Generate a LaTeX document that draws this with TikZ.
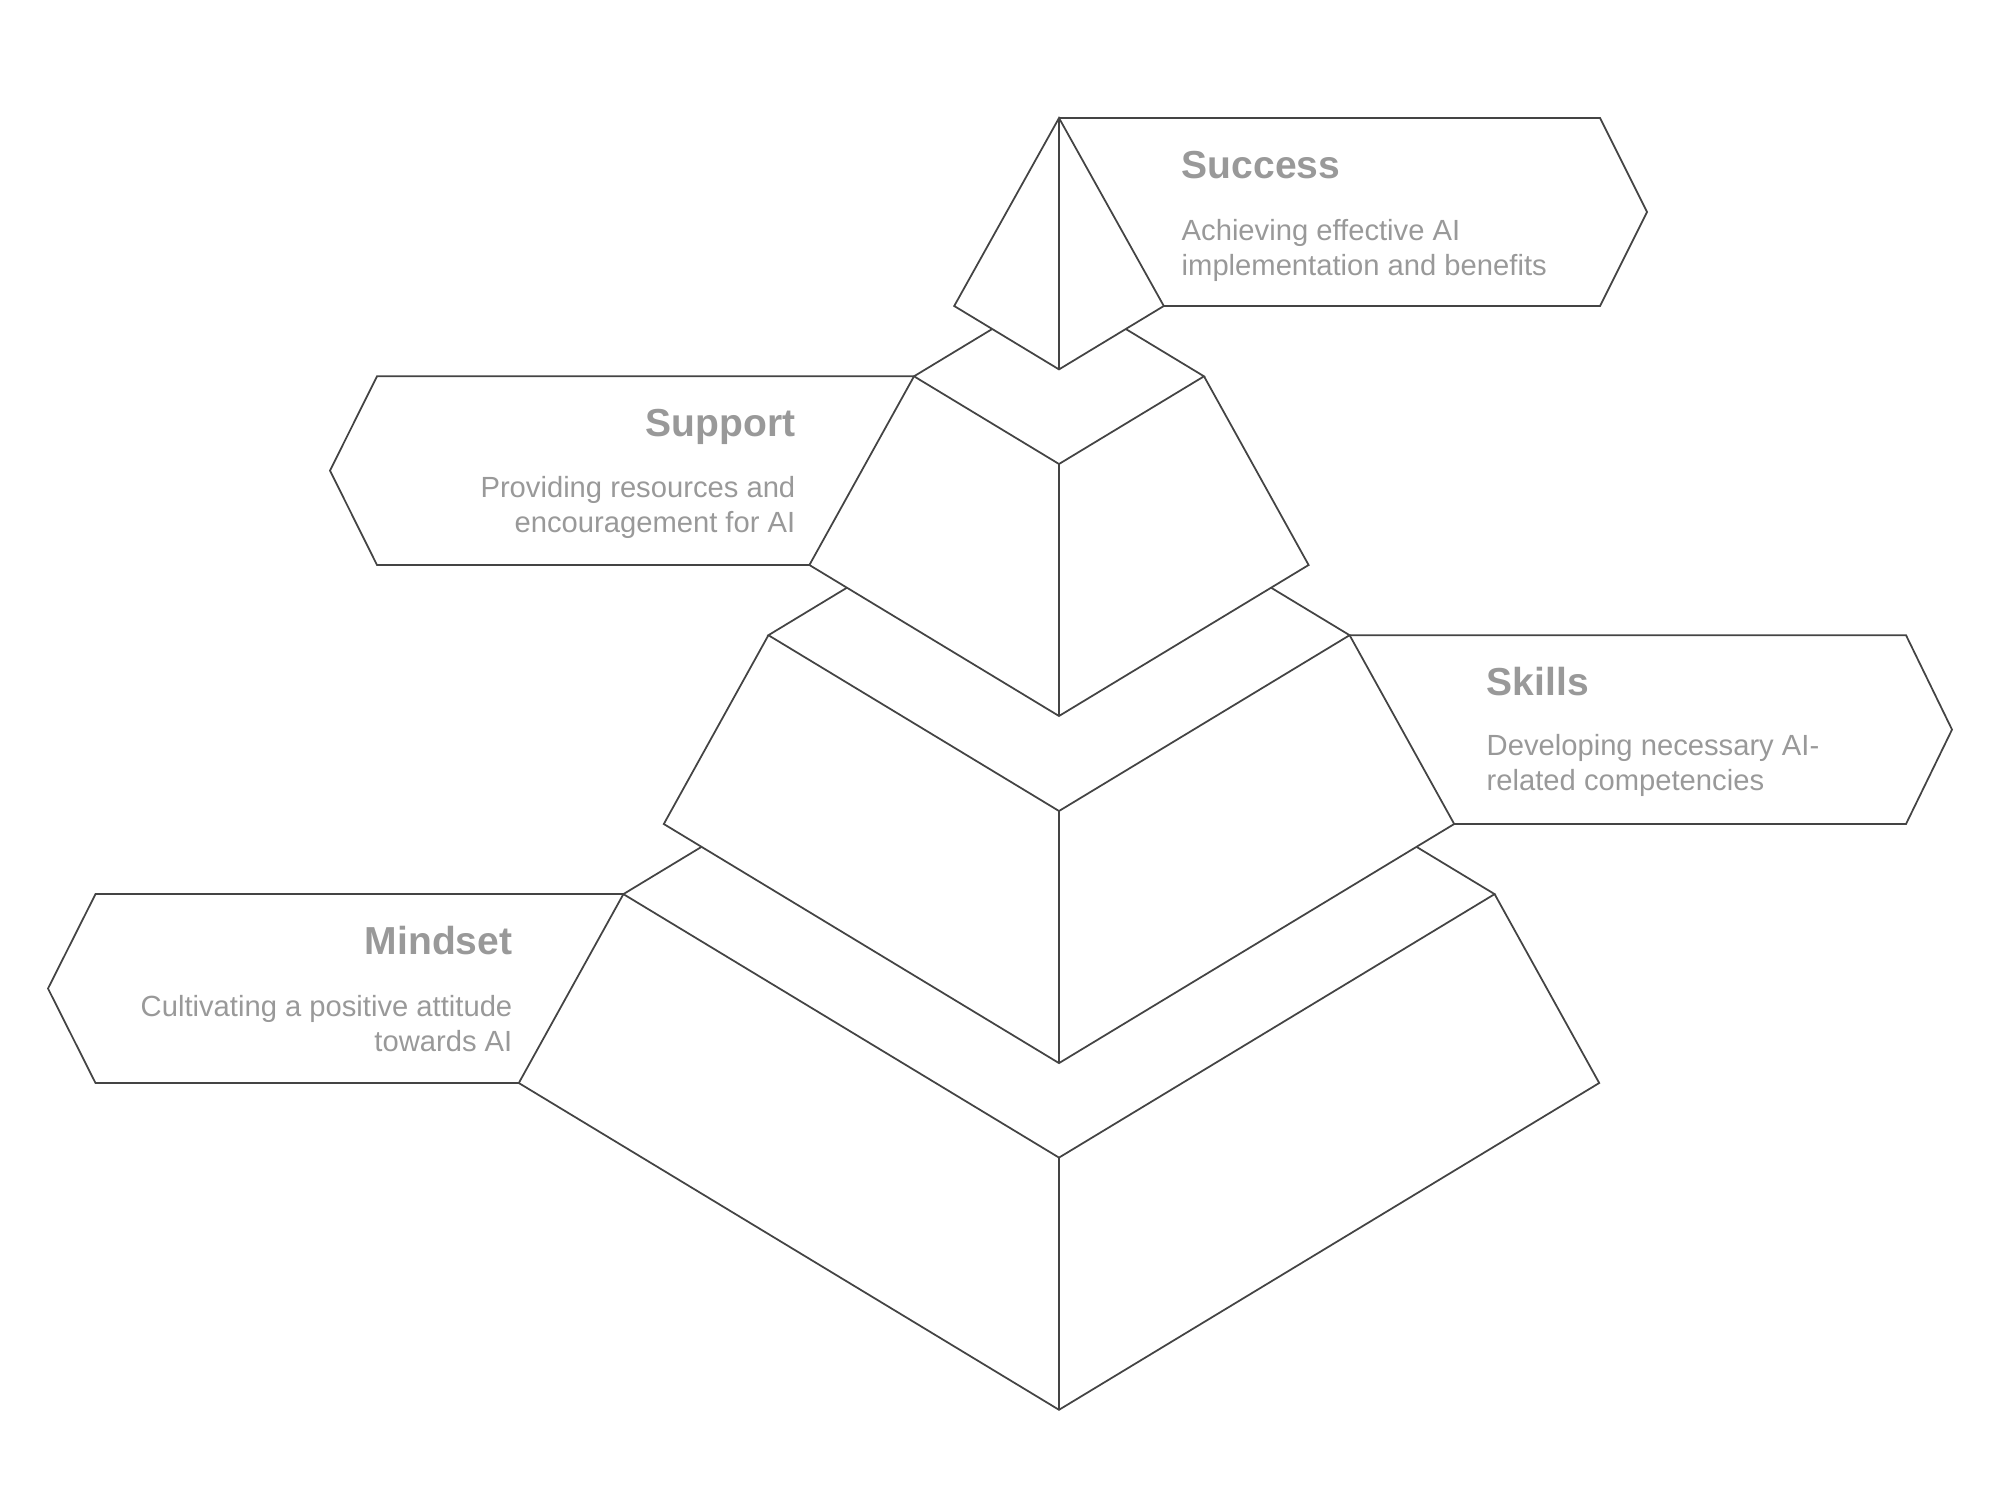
\documentclass[tikz,border=0pt]{standalone}
\usepackage{fontspec}
\setmainfont{Liberation Sans}
\definecolor{linec}{HTML}{444444}
\definecolor{txtc}{HTML}{999999}
\begin{document}
\begin{tikzpicture}[x=0.01cm,y=-0.01cm,
  edge/.style={draw=linec,line width=0.5pt,line join=miter},
  tierfill/.style={fill=white},
  boxline/.style={draw=linec,line width=0.5pt,line join=miter},
  titletext/.style={inner sep=0pt,text=txtc,font=\bfseries\fontsize{11.1}{13}\selectfont},
  desctext/.style={inner sep=0pt,text=txtc,font=\fontsize{8.3}{10}\selectfont}]
\useasboundingbox (0,0) rectangle (2000,1506);
% ---------- coordinates of the tiers ----------
% tier 1 (apex)
\coordinate (t1A) at (1059,118);
\coordinate (t1L) at (954.2,306);
\coordinate (t1R) at (1163.8,306);
\coordinate (t1F) at (1059,369.4);
% tier 2
\coordinate (t2L) at (914,376.3);
\coordinate (t2R) at (1204,376.3);
\coordinate (t2F) at (1059,464);
\coordinate (t2K) at (1059,288.6);
\coordinate (t2BL) at (809.4,565);
\coordinate (t2BR) at (1308.6,565);
\coordinate (t2BF) at (1059,716);
% tier 3
\coordinate (t3L) at (768.4,635.2);
\coordinate (t3R) at (1349.6,635.2);
\coordinate (t3F) at (1059,811);
\coordinate (t3K) at (1059,459.4);
\coordinate (t3BL) at (663.8,824);
\coordinate (t3BR) at (1454.2,824);
\coordinate (t3BF) at (1059,1063.1);
% tier 4
\coordinate (t4L) at (623.4,894.1);
\coordinate (t4R) at (1494.6,894.1);
\coordinate (t4F) at (1059,1157.6);
\coordinate (t4K) at (1059,630.6);
\coordinate (t4BL) at (518.8,1083);
\coordinate (t4BR) at (1599.2,1083);
\coordinate (t4BF) at (1059,1409.8);
% ---------- box corners ----------
\coordinate (sucTR) at (1600,118);
\coordinate (sucTip) at (1647,212);
\coordinate (sucBR) at (1600,306);
\coordinate (supTL) at (377,376.3);
\coordinate (supTip) at (330,470.6);
\coordinate (supBL) at (377,565);
\coordinate (skiTR) at (1906,635.2);
\coordinate (skiTip) at (1952,729.6);
\coordinate (skiBR) at (1906,824);
\coordinate (minTL) at (95.5,894.1);
\coordinate (minTip) at (48,988.5);
\coordinate (minBL) at (95.5,1083);
% ---------- boxes ----------
\draw[boxline] (t1A) -- (sucTR) -- (sucTip) -- (sucBR) -- (t1R);
\draw[boxline] (t2L) -- (supTL) -- (supTip) -- (supBL) -- (t2BL);
\draw[boxline] (t3R) -- (skiTR) -- (skiTip) -- (skiBR) -- (t3BR);
\draw[boxline] (t4L) -- (minTL) -- (minTip) -- (minBL) -- (t4BL);
% ---------- tier 4 ----------
\fill[tierfill] (t4L) -- (t4K) -- (t4R) -- (t4BR) -- (t4BF) -- (t4BL) -- cycle;
\draw[edge] (t4K) -- (t4L) -- (t4F) -- (t4R) -- cycle;
\draw[edge] (t4L) -- (t4BL) -- (t4BF) -- (t4BR) -- (t4R);
\draw[edge] (t4F) -- (t4BF);
% ---------- tier 3 ----------
\fill[tierfill] (t3L) -- (t3K) -- (t3R) -- (t3BR) -- (t3BF) -- (t3BL) -- cycle;
\draw[edge] (t3K) -- (t3L) -- (t3F) -- (t3R) -- cycle;
\draw[edge] (t3L) -- (t3BL) -- (t3BF) -- (t3BR) -- (t3R);
\draw[edge] (t3F) -- (t3BF);
% ---------- tier 2 ----------
\fill[tierfill] (t2L) -- (t2K) -- (t2R) -- (t2BR) -- (t2BF) -- (t2BL) -- cycle;
\draw[edge] (t2K) -- (t2L) -- (t2F) -- (t2R) -- cycle;
\draw[edge] (t2L) -- (t2BL) -- (t2BF) -- (t2BR) -- (t2R);
\draw[edge] (t2F) -- (t2BF);
% ---------- tier 1 ----------
\fill[tierfill] (t1A) -- (t1R) -- (t1F) -- (t1L) -- cycle;
\draw[edge] (t1A) -- (t1R) -- (t1F) -- (t1L) -- cycle;
\draw[edge] (t1A) -- (t1F);
% ---------- texts ----------
\node[titletext,anchor=base west] (sucT) at (1181,178) {Success};
\node[desctext,anchor=base west] (sucD1) at (1181,240) {Achieving effective AI};
\node[desctext,anchor=base west] (sucD2) at (1181,275) {implementation and benefits};
\node[titletext,anchor=base east] (supT) at (796,436) {Support};
\node[desctext,anchor=base east] (supD1) at (796,497) {Providing resources and};
\node[desctext,anchor=base east] (supD2) at (796,532) {encouragement for AI};
\node[titletext,anchor=base west] (skiT) at (1486,695) {Skills};
\node[desctext,anchor=base west] (skiD1) at (1486,755) {Developing necessary AI-};
\node[desctext,anchor=base west] (skiD2) at (1486,790) {related competencies};
\node[titletext,anchor=base east] (minT) at (513,954) {Mindset};
\node[desctext,anchor=base east] (minD1) at (513,1016) {Cultivating a positive attitude};
\node[desctext,anchor=base east] (minD2) at (513,1051) {towards AI};
\end{tikzpicture}
\end{document}
